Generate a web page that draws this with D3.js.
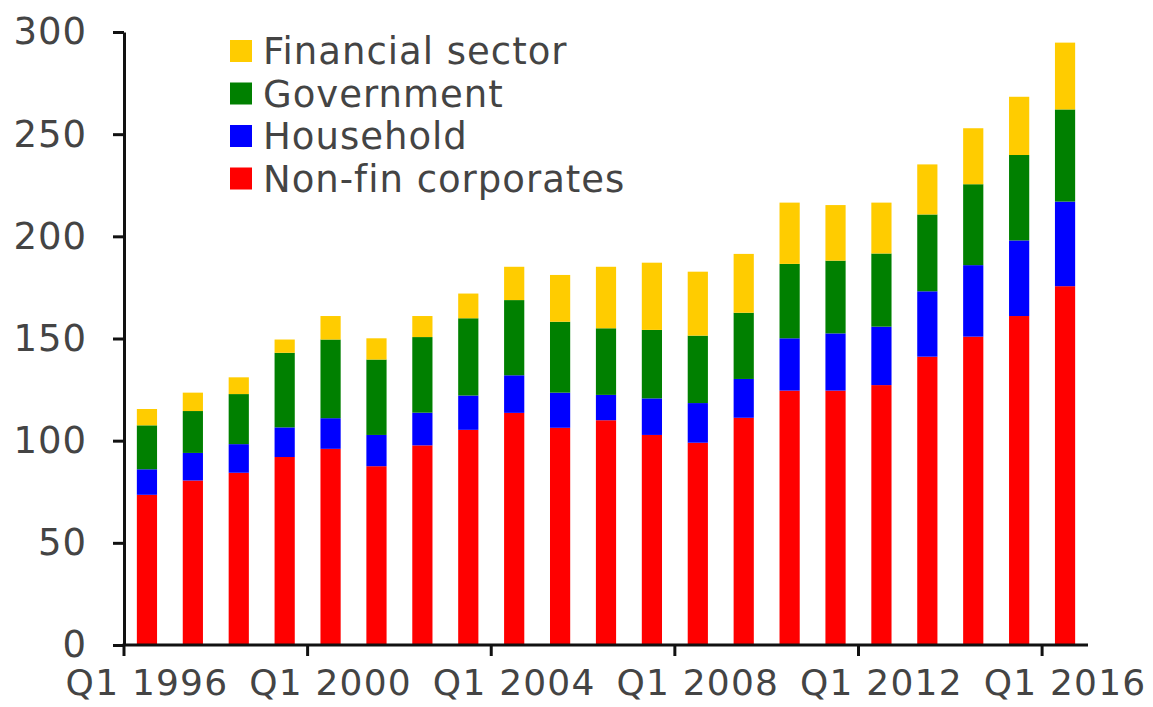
<!DOCTYPE html>
<html lang="en">
<head>
<meta charset="UTF-8">
<title>Debt by sector</title>
<script src="https://d3js.org/d3.v7.min.js"></script>
<style>
  html, body { margin: 0; padding: 0; background: #fff; }
  svg text { font-family: "DejaVu Sans", sans-serif; fill: #444; }
</style>
</head>
<body>
<svg id="chart" width="1153" height="707"></svg>
<script>
  // Data (Q1 of each year, 1996-2016)
  var years = d3.range(1996, 2017);
  var nonFin     = [73.5, 80.5, 84.3, 92.0, 96.0, 87.5, 97.7, 105.3, 113.6, 106.3, 110.0, 102.8, 99.0, 111.2, 124.5, 124.5, 127.2, 141.1, 150.9, 161.0, 175.6];
  var household  = [12.5, 13.5, 14.0, 14.5, 15.0, 15.3, 16.0, 16.8, 18.4, 17.2, 12.4, 17.9, 19.4, 19.0, 25.6, 28.0, 28.6, 32.0, 35.0, 37.0, 41.4];
  var government = [21.5, 20.5, 24.5, 36.5, 38.5, 36.9, 37.0, 37.8, 36.8, 34.7, 32.6, 33.5, 33.0, 32.4, 36.4, 35.6, 35.8, 37.6, 39.6, 41.8, 45.1];
  var financial  = [8.0, 9.0, 8.2, 6.5, 11.5, 10.4, 10.3, 12.1, 16.3, 22.9, 30.1, 32.9, 31.3, 28.8, 30.0, 27.2, 24.9, 24.5, 27.4, 28.5, 32.7];

  var seriesKeys   = ["nonFin", "household", "government", "financial"];
  var seriesLabels = {nonFin: "Non-fin corporates", household: "Household", government: "Government", financial: "Financial sector"};
  var seriesColors = {nonFin: "#ff0000", household: "#0000ff", government: "#008000", financial: "#ffcc00"};
  var yTicks = [0, 50, 100, 150, 200, 250, 300];

  var table = years.map(function(yr, i) {
    return {year: yr, nonFin: nonFin[i], household: household[i], government: government[i], financial: financial[i]};
  });

  var svg = d3.select("#chart");
  // plot edges (px)
  var plotLeft = 124, plotRight = 1088, plotTop = 32, plotBottom = 645;

  var x = d3.scaleBand()
    .domain(years)
    .range([plotLeft, plotRight])
    .paddingInner(0.56)
    .paddingOuter(0.28);

  var y = d3.scaleLinear()
    .domain([0, 300])
    .range([plotBottom, plotTop]);

  var stacked = d3.stack().keys(seriesKeys)(table);

  // bars
  svg.append("g")
    .selectAll("g")
    .data(stacked)
    .enter()
    .append("g")
      .attr("fill", function(d) { return seriesColors[d.key]; })
    .selectAll("rect")
    .data(function(d) { return d; })
    .enter()
    .append("rect")
      .attr("x", function(d) { return x(d.data.year); })
      .attr("y", function(d) { return y(d[1]); })
      .attr("height", function(d) { return y(d[0]) - y(d[1]); })
      .attr("width", x.bandwidth());

  // y axis
  var yAxis = svg.append("g")
    .attr("transform", "translate(" + plotLeft + ",0)")
    .call(d3.axisLeft(y).tickValues(yTicks).tickSize(11).tickSizeOuter(0).tickPadding(26));
  yAxis.select(".domain").attr("stroke", "#111").attr("stroke-width", 3);
  yAxis.selectAll(".tick line").attr("stroke", "#111").attr("stroke-width", 3);
  yAxis.selectAll("text")
    .style("font-size", "37px")
    .style("letter-spacing", "1px")
    .attr("fill", "#444");

  // x axis: labels on every 4th bar, tick marks between categories
  var labelled = years.filter(function(d, i) { return i % 4 === 0; });
  var xAxis = svg.append("g")
    .attr("transform", "translate(0," + plotBottom + ")")
    .call(d3.axisBottom(x).tickValues(labelled).tickSize(0).tickPadding(24)
      .tickFormat(function(d) { return "Q1 " + d; }));
  xAxis.select(".domain").remove();
  xAxis.selectAll("text")
    .style("font-size", "36px")
    .style("letter-spacing", "1.2px")
    .attr("fill", "#444");

  svg.append("line")
    .attr("x1", plotLeft - 1.5).attr("x2", plotRight)
    .attr("y1", plotBottom).attr("y2", plotBottom)
    .attr("stroke", "#111").attr("stroke-width", 3);

  var gap = x.step() * x.paddingInner() / 2;
  svg.append("g")
    .selectAll("line")
    .data(labelled)
    .enter()
    .append("line")
      .attr("x1", function(d) { return x(d) - gap; })
      .attr("x2", function(d) { return x(d) - gap; })
      .attr("y1", plotBottom)
      .attr("y2", plotBottom + 11)
      .attr("stroke", "#111")
      .attr("stroke-width", 3);

  // legend
  var legendOrder = ["financial", "government", "household", "nonFin"];
  var legend = svg.append("g")
    .selectAll("g")
    .data(legendOrder)
    .enter()
    .append("g")
      .attr("transform", function(d, i) { return "translate(230," + (40 + i * 42.5) + ")"; });
  legend.append("rect")
    .attr("width", 22).attr("height", 22)
    .attr("fill", function(d) { return seriesColors[d]; });
  legend.append("text")
    .attr("x", 33)
    .attr("y", 11)
    .attr("dy", "0.36em")
    .style("font-size", "37px")
    .style("letter-spacing", "1px")
    .text(function(d) { return seriesLabels[d]; });
</script>
</body>
</html>
